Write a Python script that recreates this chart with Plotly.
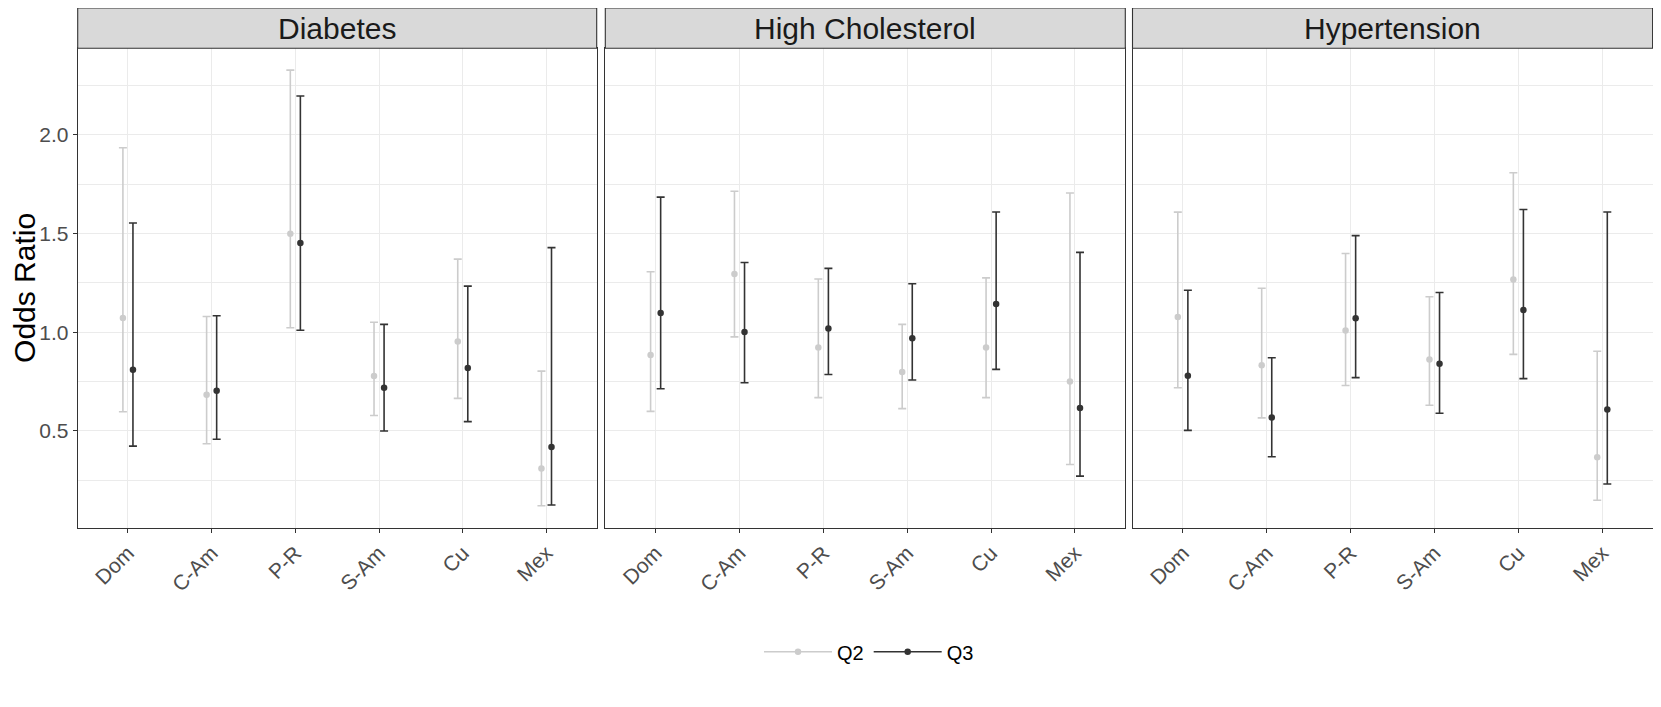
import plotly.graph_objects as go

conditions = ["Diabetes", "High Cholesterol", "Hypertension"]
groups = ["Dom", "C-Am", "P-R", "S-Am", "Cu", "Mex"]
series_names = ["Q2", "Q3"]

# Diabetes
diab_q2_or = [1.073, 0.684, 1.500, 0.779, 0.953, 0.310]
diab_q2_lo = [0.597, 0.435, 1.023, 0.578, 0.665, 0.121]
diab_q2_hi = [1.935, 1.080, 2.329, 1.051, 1.371, 0.803]
diab_q3_or = [0.810, 0.704, 1.453, 0.719, 0.819, 0.418]
diab_q3_lo = [0.423, 0.458, 1.010, 0.500, 0.547, 0.125]
diab_q3_hi = [1.554, 1.084, 2.198, 1.040, 1.234, 1.429]

# High Cholesterol
chol_q2_or = [0.885, 1.295, 0.923, 0.799, 0.923, 0.751]
chol_q2_lo = [0.599, 0.977, 0.669, 0.613, 0.669, 0.330]
chol_q2_hi = [1.307, 1.715, 1.270, 1.040, 1.276, 1.706]
chol_q3_or = [1.098, 1.002, 1.019, 0.970, 1.143, 0.616]
chol_q3_lo = [0.714, 0.744, 0.786, 0.758, 0.812, 0.271]
chol_q3_hi = [1.685, 1.354, 1.324, 1.246, 1.610, 1.405]

# Hypertension
hyp_q2_or = [1.077, 0.833, 1.009, 0.862, 1.267, 0.367]
hyp_q2_lo = [0.719, 0.566, 0.730, 0.630, 0.888, 0.149]
hyp_q2_hi = [1.609, 1.223, 1.399, 1.180, 1.809, 0.904]
hyp_q3_or = [0.780, 0.568, 1.071, 0.841, 1.113, 0.609]
hyp_q3_lo = [0.503, 0.369, 0.770, 0.590, 0.765, 0.231]
hyp_q3_hi = [1.213, 0.871, 1.490, 1.202, 1.622, 1.610]

y_ticks = [0.5, 1.0, 1.5, 2.0]
y_ticklabels = ["0.5", "1.0", "1.5", "2.0"]

panel_data = [
    [(diab_q2_or, diab_q2_lo, diab_q2_hi), (diab_q3_or, diab_q3_lo, diab_q3_hi)],
    [(chol_q2_or, chol_q2_lo, chol_q2_hi), (chol_q3_or, chol_q3_lo, chol_q3_hi)],
    [(hyp_q2_or, hyp_q2_lo, hyp_q2_hi), (hyp_q3_or, hyp_q3_lo, hyp_q3_hi)],
]
colors = ["#CCCCCC", "#333333"]

# the page body has an 8px margin, so the figure is placed at (8, 8) in the window
OFF = 8
W, H = 1661 - 2 * OFF, 707 - 2 * OFF
panel_px = [(77.7 - OFF, 596.7 - OFF), (605.3 - OFF, 1125.3 - OFF), (1132.5 - OFF, 1652.6 - OFF)]
panel_top_px, panel_bot_px = 48.3 - OFF, 527.5 - OFF
strip_top_px = 7.3 - OFF + 0.6

FONT = "Liberation Sans, Arial, Helvetica, sans-serif"

# y range: ggplot-style 5% expansion of data range
all_vals = []
for panel in panel_data:
    for (o, lo, hi) in panel:
        all_vals += lo + hi
ymin, ymax = min(all_vals), max(all_vals)
pad = 0.05 * (ymax - ymin)
y_range = [ymin - pad, ymax + pad]

fig = go.Figure()

for p, panel in enumerate(panel_data):
    xa = "x" if p == 0 else f"x{p+1}"
    ya = "y" if p == 0 else f"y{p+1}"
    for s, (o, lo, hi) in enumerate(panel):
        fig.add_trace(go.Scatter(
            x=groups, y=o, xaxis=xa, yaxis=ya,
            mode="markers", name=series_names[s], showlegend=False,
            offsetgroup=series_names[s],
            marker=dict(color=colors[s], size=6.5),
            error_y=dict(type="data", symmetric=False,
                         array=[h - v for h, v in zip(hi, o)],
                         arrayminus=[v - l for v, l in zip(o, lo)],
                         color=colors[s], thickness=1.6, width=4),
        ))

# legend entries (line + point key like ggplot)
for s in range(2):
    fig.add_trace(go.Scatter(
        x=[None], y=[None], xaxis="x", yaxis="y",
        mode="lines+markers", name=series_names[s], showlegend=True,
        line=dict(color=colors[s], width=1.6),
        marker=dict(color=colors[s], size=6.5),
    ))

ydom = [(H - panel_bot_px) / H, (H - panel_top_px) / H]
layout = dict(
    width=W, height=H,
    margin=dict(l=0, r=0, t=0, b=0, autoexpand=False),
    paper_bgcolor="white", plot_bgcolor="white",
    scattermode="group", scattergap=0.76,
    font=dict(family=FONT, color="#000000"),
    legend=dict(orientation="h", x=(869 - OFF) / W, xanchor="center",
                y=1 - (651.7 - OFF) / H, yanchor="middle",
                font=dict(size=20, color="#000000", family=FONT),
                bgcolor="rgba(0,0,0,0)", itemwidth=68, tracegroupgap=0),
    showlegend=True,
)

shapes = []
annotations = []
for p in range(3):
    sfx = "" if p == 0 else str(p + 1)
    x0, x1 = panel_px[p]
    layout["xaxis" + sfx] = dict(
        domain=[x0 / W, x1 / W], anchor="y" + sfx, automargin=False,
        type="category", categoryorder="array", categoryarray=groups,
        range=[-0.6, len(groups) - 1 + 0.6],
        showgrid=True, gridcolor="#EBEBEB", gridwidth=1.1,
        showline=True, mirror=True, linecolor="#333333", linewidth=1.1,
        ticks="outside", ticklen=4, tickcolor="#333333", tickwidth=1.1,
        tickangle=-45, tickfont=dict(size=21, color="#4D4D4D", family=FONT),
        zeroline=False, fixedrange=True,
    )
    layout["yaxis" + sfx] = dict(
        domain=ydom, anchor="x" + sfx, range=y_range, automargin=False,
        tickvals=y_ticks, ticktext=y_ticklabels,
        showticklabels=(p == 0),
        ticks="outside" if p == 0 else "", ticklen=4, tickcolor="#333333", tickwidth=1.1,
        tickfont=dict(size=21, color="#4D4D4D", family=FONT),
        showgrid=True, gridcolor="#EBEBEB", gridwidth=1.1,
        minor=dict(tickvals=[0.25, 0.75, 1.25, 1.75, 2.25], showgrid=True,
                   gridcolor="#EBEBEB", gridwidth=0.6),
        showline=True, mirror=True, linecolor="#333333", linewidth=1.1,
        zeroline=False, fixedrange=True,
    )
    # facet strip
    shapes.append(dict(type="rect", xref="paper", yref="paper",
                       x0=x0 / W, x1=x1 / W,
                       y0=(H - panel_top_px) / H, y1=(H - strip_top_px) / H,
                       fillcolor="#D9D9D9", line=dict(color="#333333", width=1.1),
                       layer="above"))
    annotations.append(dict(text=conditions[p], xref="paper", yref="paper",
                            x=(x0 + x1) / 2 / W,
                            y=(H - (panel_top_px + strip_top_px) / 2) / H,
                            xanchor="center", yanchor="middle", showarrow=False,
                            font=dict(size=30, color="#1A1A1A", family=FONT)))

layout["yaxis"]["title"] = dict(text="Odds Ratio", standoff=13,
                                font=dict(size=30, color="#000000", family=FONT))
layout["shapes"] = shapes
layout["annotations"] = annotations
fig.update_layout(**layout)

fig.write_html("out.html")
